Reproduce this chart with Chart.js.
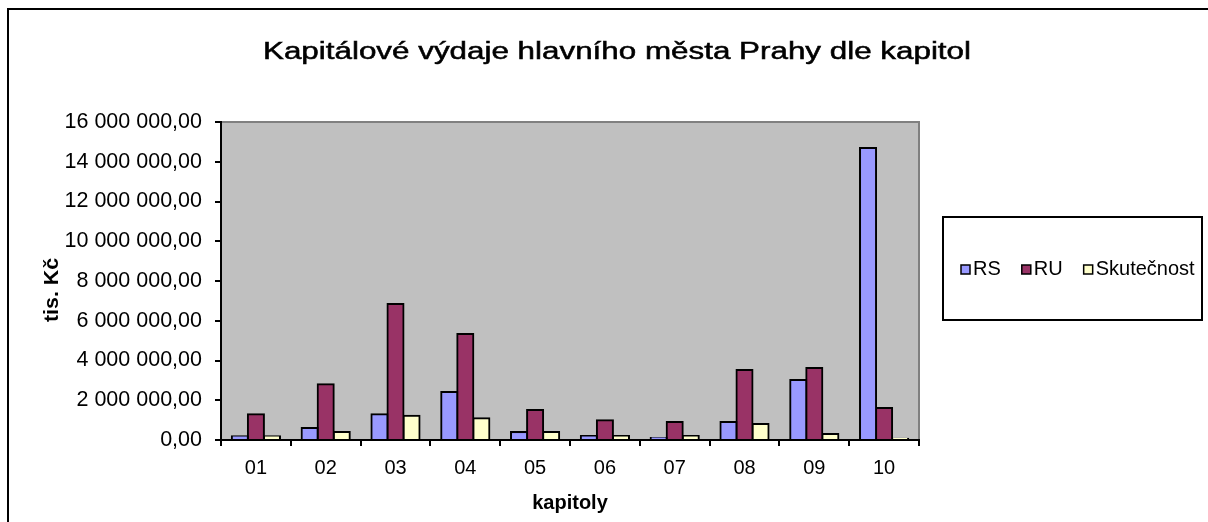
<!DOCTYPE html>
<html lang="cs">
<head>
<meta charset="utf-8">
<title>Kapitálové výdaje</title>
<script src="https://cdn.jsdelivr.net/npm/chart.js@4.4.1/dist/chart.umd.min.js"></script>
<style>
  html, body { margin: 0; padding: 0; background: #fff; }
  #wrap { position: relative; width: 1208px; height: 522px; }
</style>
</head>
<body>
<div id="wrap"><canvas id="chart" width="1208" height="522"></canvas></div>
<script>
const kapitoly = ["01", "02", "03", "04", "05", "06", "07", "08", "09", "10"];

// tis. Kč
const rs = [190000, 600000, 1300000, 2410000, 400000, 200000, 100000, 900000, 3020000, 14690000];
const ru = [1300000, 2810000, 6840000, 5330000, 1510000, 1000000, 900000, 3520000, 3620000, 1610000];
const skutecnost = [190000, 400000, 1220000, 1100000, 400000, 200000, 200000, 800000, 300000, 60000];

const yMax = 16000000;
const yStep = 2000000;

const chartTitle = "Kapitálové výdaje hlavního města Prahy dle kapitol";
const yTitle = "tis. Kč";

const FONT = "'Liberation Sans', Arial, sans-serif";

function formatCz(v) {
  const parts = v.toFixed(2).split(".");
  const whole = parts[0].replace(/\B(?=(\d{3})+(?!\d))/g, " ");
  return whole + "," + parts[1];
}

// gray plot area + frame around the whole chart
const plotBg = {
  id: "plotBg",
  beforeDraw(chart) {
    const { ctx, chartArea: a } = chart;
    ctx.save();
    ctx.fillStyle = "#c0c0c0";
    ctx.fillRect(a.left, a.top, a.right - a.left, a.bottom - a.top);
    ctx.strokeStyle = "#808080";
    ctx.lineWidth = 2;
    ctx.beginPath();
    ctx.moveTo(a.left, a.top);
    ctx.lineTo(a.right, a.top);
    ctx.lineTo(a.right, a.bottom);
    ctx.stroke();
    ctx.strokeStyle = "#000";
    ctx.strokeRect(8, 9, 1220, 540);
    ctx.restore();
  }
};

// the old Excel title is drawn wide, so stretch it a bit; y title too
const titles = {
  id: "titles",
  afterDraw(chart) {
    const { ctx } = chart;
    ctx.save();
    ctx.font = "23px " + FONT;
    ctx.fillStyle = "#000";
    ctx.strokeStyle = "#000";
    ctx.lineWidth = 0.5;
    ctx.textAlign = "center";
    ctx.textBaseline = "alphabetic";
    const w = ctx.measureText(chartTitle).width;
    ctx.translate(617, 59);
    ctx.scale(708 / w, 1);
    ctx.fillText(chartTitle, 0, 0);
    ctx.strokeText(chartTitle, 0, 0);
    ctx.restore();

    ctx.save();
    ctx.font = "bold 20px " + FONT;
    ctx.fillStyle = "#000";
    ctx.textAlign = "center";
    ctx.textBaseline = "middle";
    const yw = ctx.measureText(yTitle).width;
    ctx.translate(52, 290);
    ctx.rotate(-Math.PI / 2);
    ctx.scale(64 / yw, 1);
    ctx.fillText(yTitle, 0, 0);
    ctx.restore();
  }
};

// boxed legend in one row, to the right of the plot
const boxLegend = {
  id: "boxLegend",
  afterDraw(chart) {
    const { ctx } = chart;
    const box = { x: 943, y: 217, w: 259, h: 103 };
    ctx.save();
    ctx.lineWidth = 2;
    ctx.strokeStyle = "#000";
    ctx.strokeRect(box.x, box.y, box.w, box.h);
    ctx.font = "20px " + FONT;
    ctx.textBaseline = "middle";
    const cy = box.y + box.h / 2 + 1;
    let x = 961;
    chart.data.datasets.forEach(ds => {
      ctx.fillStyle = ds.backgroundColor;
      ctx.fillRect(x, cy - 4.5, 9, 9);
      ctx.lineWidth = 1.5;
      ctx.strokeRect(x, cy - 4.5, 9, 9);
      ctx.fillStyle = "#000";
      ctx.fillText(ds.label, x + 12, cy);
      x += 12 + ctx.measureText(ds.label).width + 21;
    });
    ctx.restore();
  }
};

const ctx = document.getElementById("chart").getContext("2d");

new Chart(ctx, {
  type: "bar",
  data: {
    labels: kapitoly,
    datasets: [
      { label: "RS", data: rs, backgroundColor: "#9999ff" },
      { label: "RU", data: ru, backgroundColor: "#993366" },
      { label: "Skutečnost", data: skutecnost, backgroundColor: "#ffffcc" }
    ]
  },
  options: {
    responsive: false,
    animation: false,
    layout: { padding: { left: 0, right: 289, top: 122, bottom: 0 } },
    datasets: {
      bar: {
        borderColor: "#000",
        borderWidth: 2,
        inflateAmount: 1,
        barPercentage: 1,
        categoryPercentage: 0.69
      }
    },
    plugins: {
      legend: { display: false },
      title: { display: false },
      tooltip: { enabled: false }
    },
    scales: {
      x: {
        grid: { drawOnChartArea: false, drawTicks: true, tickLength: 6, color: "#000", lineWidth: 2 },
        border: { display: true, color: "#000", width: 2 },
        ticks: { color: "#000", font: { family: FONT, size: 20 }, padding: 10, maxRotation: 0 },
        title: {
          display: true,
          text: "kapitoly",
          color: "#000",
          font: { family: FONT, size: 20, weight: "bold" },
          padding: { top: 0, bottom: 7 }
        },
        afterFit(scale) { scale.height = 82; }
      },
      y: {
        min: 0,
        max: yMax,
        grid: { drawOnChartArea: false, drawTicks: true, tickLength: 6, color: "#000", lineWidth: 2 },
        border: { display: true, color: "#000", width: 2 },
        ticks: {
          stepSize: yStep,
          color: "#000",
          font: { family: FONT, size: 21.5 },
          padding: 13,
          callback: v => formatCz(v)
        },
        afterFit(scale) { scale.width = 221; }
      }
    }
  },
  plugins: [plotBg, titles, boxLegend]
});
</script>
</body>
</html>
